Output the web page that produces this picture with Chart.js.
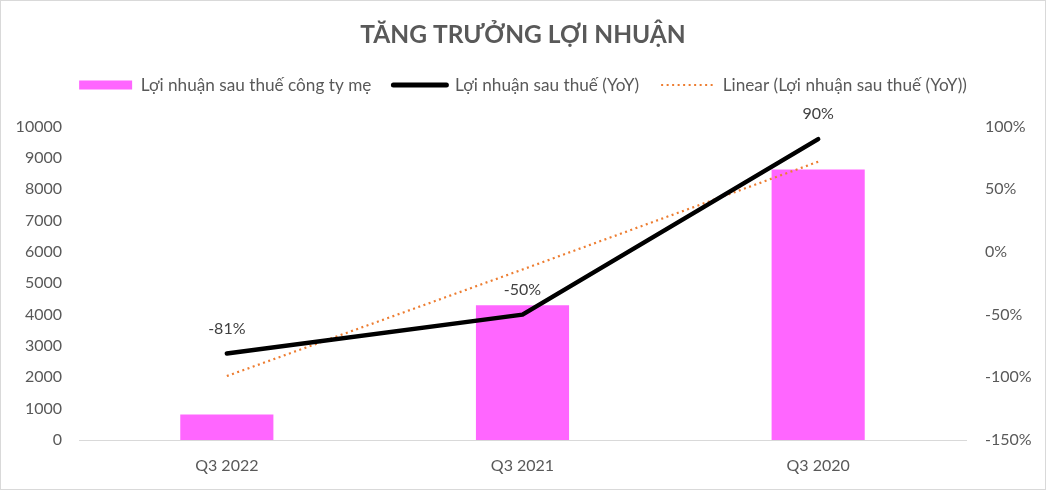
<!DOCTYPE html>
<html>
<head>
<meta charset="utf-8">
<script src="https://cdn.jsdelivr.net/npm/chart.js@4/dist/chart.umd.min.js"></script>
<style>
html,body{margin:0;padding:0;background:#fff;}
#wrap{width:1046px;height:490px;position:relative;}
</style>
</head>
<body>
<div id="wrap"><canvas id="c" width="1046" height="490"></canvas></div>
<script>
const categories = ['Q3 2022', 'Q3 2021', 'Q3 2020'];
const profitParent = [810, 4300, 8630];
const profitYoY = [-81, -50, 90];
const trendYoY = [-99, -14, 72];
const yoyLabels = ['-81%', '-50%', '90%'];

const FONT = 'Lato, "Open Sans", sans-serif';

const borderPlugin = {
  id: 'outerBorder',
  afterDraw(chart) {
    const ctx = chart.ctx;
    ctx.save();
    ctx.strokeStyle = '#d9d9d9';
    ctx.lineWidth = 1;
    ctx.strokeRect(0.5, 0.5, chart.width - 1, chart.height - 1);
    ctx.restore();
  }
};

const labelPlugin = {
  id: 'yoyLabels',
  afterDatasetsDraw(chart) {
    const meta = chart.getDatasetMeta(1);
    const ctx = chart.ctx;
    ctx.save();
    ctx.font = '16px ' + FONT;
    ctx.fillStyle = '#404040';
    ctx.textAlign = 'center';
    ctx.textBaseline = 'middle';
    meta.data.forEach((pt, i) => {
      ctx.fillText(yoyLabels[i], pt.x, pt.y - 25);
    });
    ctx.restore();
  }
};

new Chart(document.getElementById('c'), {
  data: {
    labels: categories,
    datasets: [
      {
        type: 'bar',
        label: 'Lợi nhuận sau thuế công ty mẹ',
        data: profitParent,
        backgroundColor: '#FF66FF',
        yAxisID: 'y',
        barPercentage: 0.315,
        categoryPercentage: 1,
        order: 3
      },
      {
        type: 'line',
        label: 'Lợi nhuận sau thuế (YoY)',
        data: profitYoY,
        borderColor: '#000000',
        backgroundColor: '#000000',
        borderWidth: 4.5,
        borderCapStyle: 'round',
        borderJoinStyle: 'round',
        pointRadius: 0,
        tension: 0,
        yAxisID: 'y1',
        order: 1
      },
      {
        type: 'line',
        label: 'Linear (Lợi nhuận sau thuế (YoY))',
        data: trendYoY,
        borderColor: '#ED7D31',
        backgroundColor: '#ED7D31',
        borderWidth: 2.2,
        borderDash: [2, 3.5],
        pointRadius: 0,
        tension: 0,
        yAxisID: 'y1',
        order: 2
      }
    ]
  },
  options: {
    responsive: false,
    animation: false,
    devicePixelRatio: 1,
    layout: { padding: { left: 0, right: 0, top: 0, bottom: 0 } },
    plugins: {
      tooltip: { enabled: false },
      title: {
        display: true,
        text: 'TĂNG TRƯỞNG LỢI NHUẬN',
        color: '#595959',
        font: { family: FONT, size: 24.5, weight: 'bold' },
        padding: { top: 20, bottom: 5 }
      },
      subtitle: {
        display: true,
        text: ' ',
        weight: 500,
        position: 'top',
        font: { family: FONT, size: 10, lineHeight: 1 },
        padding: { top: 13, bottom: 0 }
      },
      legend: {
        display: true,
        position: 'top',
        labels: {
          color: '#595959',
          font: { family: FONT, size: 17.2 },
          usePointStyle: true,
          pointStyleWidth: 53,
          boxHeight: 9,
          padding: 22,
          generateLabels(chart) {
            const ds = chart.data.datasets;
            return [
              { text: ds[0].label, fillStyle: '#FF66FF', strokeStyle: '#FF66FF', lineWidth: 0, pointStyle: 'rect', datasetIndex: 0, fontColor: '#595959' },
              { text: ds[1].label, fillStyle: '#000000', strokeStyle: '#000000', lineWidth: 5, lineCap: 'round', pointStyle: 'line', datasetIndex: 1, fontColor: '#595959' },
              { text: ds[2].label, fillStyle: '#ED7D31', strokeStyle: '#ED7D31', lineWidth: 2.2, lineDash: [2, 3.5], pointStyle: 'line', datasetIndex: 2, fontColor: '#595959' }
            ];
          }
        }
      }
    },
    scales: {
      x: {
        grid: { display: false, drawTicks: false },
        border: { display: true, color: '#d9d9d9', width: 1 },
        ticks: { color: '#595959', font: { family: FONT, size: 16 }, padding: 16 },
        afterFit(s) { s.height = 50; }
      },
      y: {
        position: 'left',
        min: 0, max: 10000,
        grid: { display: false, drawTicks: false },
        border: { display: false },
        ticks: { stepSize: 1000, color: '#595959', font: { family: FONT, size: 16 }, padding: 17, callback: v => String(v) },
        afterFit(s) { s.width = 79; }
      },
      y1: {
        position: 'right',
        min: -150, max: 100,
        grid: { display: false, drawTicks: false },
        border: { display: false },
        ticks: { stepSize: 50, color: '#595959', font: { family: FONT, size: 16 }, padding: 19, callback: v => v + '%' },
        afterFit(s) { s.width = 80; }
      }
    }
  },
  plugins: [borderPlugin, labelPlugin]
});
</script>
</body>
</html>
